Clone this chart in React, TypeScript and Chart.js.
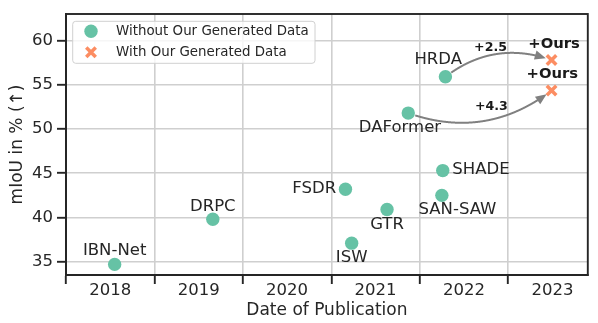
import React, { useEffect, useRef } from 'react';
import { Chart, registerables } from 'chart.js';

Chart.register(...registerables);

// ---------------- data ----------------
const methods = ['IBN-Net', 'DRPC', 'FSDR', 'ISW', 'GTR', 'DAFormer', 'SAN-SAW', 'SHADE', 'HRDA'];
const methodDates = [2018.05, 2019.16, 2020.66, 2020.73, 2021.13, 2021.37, 2021.75, 2021.76, 2021.79];
const methodMiou = [34.7, 39.8, 43.2, 37.1, 40.9, 51.8, 42.5, 45.3, 55.9];

const oursBase = ['HRDA', 'DAFormer'];
const oursDates = [2022.99, 2022.99];
const oursMiou = [57.8, 54.35];
const oursLabel = '+Ours';

const gainTexts = ['+2.5', '+4.3'];
const gainX = [2022.3, 2022.31];
const gainY = [59.18, 52.54];

const years = [2018, 2019, 2020, 2021, 2022, 2023];
const yTicks = [35, 40, 45, 50, 55, 60];

const seriesNames = ['Without Our Generated Data', 'With Our Generated Data'];

// ---------------- styles ----------------
const FONT = 'DejaVu Sans';
const TEXT = '#262626';
const TEAL = '#66c2a5';
const ORANGE = '#fc8d62';
const GRID = '#cfcfcf';

const labelStyle: Record<string, { dx: number; dy: number; align: CanvasTextAlign }> = {
  'IBN-Net': { dx: 0, dy: -13.3, align: 'center' },
  DRPC: { dx: 0, dy: -12.6, align: 'center' },
  FSDR: { dx: -9.3, dy: 0, align: 'right' },
  ISW: { dx: 0, dy: 14.5, align: 'center' },
  GTR: { dx: 0, dy: 15.2, align: 'center' },
  DAFormer: { dx: -8.3, dy: 15, align: 'center' },
  'SAN-SAW': { dx: 15.6, dy: 14.5, align: 'center' },
  SHADE: { dx: 9.6, dy: -0.7, align: 'left' },
  HRDA: { dx: -7.2, dy: -17.3, align: 'center' },
};
const oursLabelOffset = [
  { dx: 2.5, dy: -16 },
  { dx: 0.8, dy: -16.4 },
];
const arrowRad = [-0.27, 0.27];

function drawCross(ctx: CanvasRenderingContext2D, cx: number, cy: number, r: number, w: number, color: string) {
  const o = r * Math.SQRT1_2;
  ctx.save();
  ctx.strokeStyle = color;
  ctx.lineWidth = w;
  ctx.beginPath();
  ctx.moveTo(cx - o, cy - o);
  ctx.lineTo(cx + o, cy + o);
  ctx.moveTo(cx - o, cy + o);
  ctx.lineTo(cx + o, cy - o);
  ctx.stroke();
  ctx.restore();
}

const framePlugin = {
  id: 'frame',
  beforeDatasetsDraw(chart: any) {
    const { ctx, chartArea: ca } = chart;
    ctx.save();
    ctx.strokeStyle = TEXT;
    ctx.lineWidth = 1.9;
    ctx.strokeRect(ca.left, ca.top, ca.right - ca.left, ca.bottom - ca.top);
    ctx.restore();
  },
};

const annotPlugin = {
  id: 'annot',
  afterDatasetsDraw(chart: any) {
    const { ctx, chartArea: ca } = chart;
    const xs = chart.scales.x;
    const ys = chart.scales.y;

    // arrows
    for (let i = 0; i < oursBase.length; i++) {
      const bi = methods.indexOf(oursBase[i]);
      const p0 = { x: xs.getPixelForValue(methodDates[bi]), y: ys.getPixelForValue(methodMiou[bi]) };
      const p2 = { x: xs.getPixelForValue(oursDates[i]), y: ys.getPixelForValue(oursMiou[i]) };
      const mx = (p0.x + p2.x) / 2;
      const my = (p0.y + p2.y) / 2;
      const dx = p2.x - p0.x;
      const dy = p2.y - p0.y;
      const r = arrowRad[i];
      const c = { x: mx - r * dy, y: my + r * dx };
      const bez = (t: number) => ({
        x: (1 - t) * (1 - t) * p0.x + 2 * (1 - t) * t * c.x + t * t * p2.x,
        y: (1 - t) * (1 - t) * p0.y + 2 * (1 - t) * t * c.y + t * t * p2.y,
      });
      const N = 400;
      let tA = 0;
      let tB = 1;
      for (let k = 0; k <= N; k++) {
        const t = k / N;
        const p = bez(t);
        if (Math.hypot(p.x - p0.x, p.y - p0.y) >= 7) { tA = t; break; }
      }
      for (let k = N; k >= 0; k--) {
        const t = k / N;
        const p = bez(t);
        if (Math.hypot(p.x - p2.x, p.y - p2.y) >= 6) { tB = t; break; }
      }
      const tip = bez(tB);
      const prev = bez(tB - 0.02);
      const ang = Math.atan2(tip.y - prev.y, tip.x - prev.x);
      const headLen = 11;
      const headW = 4.6;
      ctx.save();
      ctx.strokeStyle = '#808080';
      ctx.fillStyle = '#808080';
      ctx.lineWidth = 2;
      ctx.beginPath();
      let started = false;
      for (let k = 0; k <= N; k++) {
        const t = tA + (tB - tA) * (k / N);
        const p = bez(t);
        if (Math.hypot(p.x - tip.x, p.y - tip.y) < headLen * 0.6) break;
        if (!started) { ctx.moveTo(p.x, p.y); started = true; } else ctx.lineTo(p.x, p.y);
      }
      ctx.stroke();
      ctx.beginPath();
      ctx.moveTo(tip.x, tip.y);
      const bx = tip.x - headLen * Math.cos(ang);
      const by = tip.y - headLen * Math.sin(ang);
      ctx.lineTo(bx + headW * Math.sin(ang), by - headW * Math.cos(ang));
      ctx.lineTo(bx - headW * Math.sin(ang), by + headW * Math.cos(ang));
      ctx.closePath();
      ctx.fill();
      ctx.restore();
    }

    // method labels
    ctx.save();
    ctx.fillStyle = TEXT;
    ctx.textBaseline = 'middle';
    ctx.font = `16.5px "${FONT}"`;
    methods.forEach((m, i) => {
      const st = labelStyle[m];
      const px = xs.getPixelForValue(methodDates[i]);
      const py = ys.getPixelForValue(methodMiou[i]);
      ctx.textAlign = st.align;
      ctx.fillText(m, px + st.dx, py + st.dy);
    });

    // ours labels
    ctx.fillStyle = '#1a1a1a';
    ctx.font = `bold 14.8px "${FONT}"`;
    ctx.textAlign = 'center';
    oursDates.forEach((d, i) => {
      const px = xs.getPixelForValue(d);
      const py = ys.getPixelForValue(oursMiou[i]);
      ctx.fillText(oursLabel, px + oursLabelOffset[i].dx, py + oursLabelOffset[i].dy);
    });

    // gains
    ctx.font = `bold 12.6px "${FONT}"`;
    gainTexts.forEach((g, i) => {
      ctx.fillText(g, xs.getPixelForValue(gainX[i]), ys.getPixelForValue(gainY[i]));
    });
    ctx.restore();

    // legend
    const lx = ca.left + 6.7;
    const ly = ca.top + 7.3;
    const lw = 242.3;
    const lh = 42;
    ctx.save();
    ctx.beginPath();
    if ((ctx as any).roundRect) (ctx as any).roundRect(lx, ly, lw, lh, 3);
    else ctx.rect(lx, ly, lw, lh);
    ctx.fillStyle = 'rgba(255,255,255,0.8)';
    ctx.fill();
    ctx.strokeStyle = '#d0d0d0';
    ctx.lineWidth = 1;
    ctx.stroke();
    const rows = [ly + 10, ly + 31];
    const mxl = lx + 18.3;
    ctx.fillStyle = TEAL;
    ctx.beginPath();
    ctx.arc(mxl, rows[0], 6.7, 0, Math.PI * 2);
    ctx.fill();
    drawCross(ctx, mxl, rows[1], 6.7, 3.5, ORANGE);
    ctx.fillStyle = TEXT;
    ctx.font = `13.4px "${FONT}"`;
    ctx.textAlign = 'left';
    ctx.textBaseline = 'middle';
    seriesNames.forEach((n, i) => ctx.fillText(n, lx + 43.3, rows[i]));
    ctx.restore();
  },
};

export default function App() {
  const ref = useRef<HTMLCanvasElement>(null);

  useEffect(() => {
    if (!ref.current) return;
    Chart.defaults.font.family = FONT;
    const chart = new Chart(ref.current, {
      type: 'scatter',
      data: {
        datasets: [
          {
            label: seriesNames[0],
            data: methods.map((_, i) => ({ x: methodDates[i], y: methodMiou[i] })),
            pointStyle: 'circle',
            pointRadius: 6.7,
            backgroundColor: TEAL,
            borderColor: TEAL,
            borderWidth: 0,
          },
          {
            label: seriesNames[1],
            data: oursDates.map((d, i) => ({ x: d, y: oursMiou[i] })),
            pointStyle: 'crossRot',
            pointRadius: 6.7,
            backgroundColor: ORANGE,
            borderColor: ORANGE,
            borderWidth: 3.5,
          },
        ],
      },
      options: {
        animation: false,
        responsive: false,
        devicePixelRatio: 1,
        layout: { padding: { top: 14, right: 10, left: 0, bottom: 0 } },
        plugins: { legend: { display: false }, tooltip: { enabled: false } },
        scales: {
          x: {
            type: 'linear',
            min: 2017.5,
            max: 2023.4,
            afterFit: (s: any) => { s.height = 48; },
            afterBuildTicks: (s: any) => { s.ticks = years.map((yr) => ({ value: yr - 0.5 })); },
            ticks: {
              callback: (_v: any, i: number) => String(years[i]),
              labelOffset: 44.2,
              padding: -3.5,
              color: TEXT,
              font: { family: FONT, size: 16.5 },
              maxRotation: 0,
              autoSkip: false,
            },
            grid: { color: GRID, lineWidth: 1.6, tickColor: TEXT, tickWidth: 1.9, tickLength: 9, drawTicks: true },
            border: { color: TEXT, width: 1.9 },
            title: {
              display: true,
              text: 'Date of Publication',
              color: TEXT,
              font: { family: FONT, size: 17 },
              padding: { top: 0, bottom: 1.8 },
            },
          },
          y: {
            type: 'linear',
            min: 33.5,
            max: 63,
            afterFit: (s: any) => { s.width = 66; },
            afterBuildTicks: (s: any) => { s.ticks = yTicks.map((v) => ({ value: v })); },
            ticks: {
              padding: 4,
              color: TEXT,
              font: { family: FONT, size: 16.5 },
            },
            grid: { color: GRID, lineWidth: 1.6, tickColor: TEXT, tickWidth: 1.9, tickLength: 9, drawTicks: true },
            border: { color: TEXT, width: 1.9 },
            title: {
              display: true,
              text: 'mIoU in % (↑)',
              color: TEXT,
              font: { family: FONT, size: 17 },
              padding: { top: 7.4, bottom: 0 },
            },
          },
        },
      } as any,
      plugins: [framePlugin, annotPlugin],
    });
    return () => chart.destroy();
  }, []);

  return (
    <div style={{ position: 'absolute', left: 0, top: 0, width: 598, height: 323 }}>
      <canvas ref={ref} width={598} height={323} style={{ display: 'block', width: 598, height: 323 }} />
    </div>
  );
}
